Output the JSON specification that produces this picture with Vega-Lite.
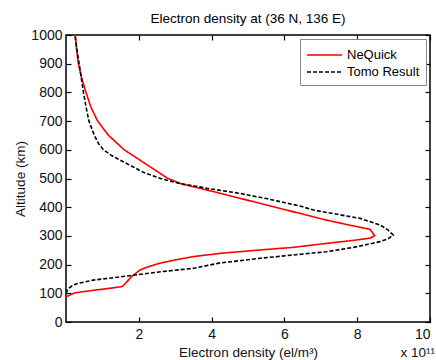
{
  "$schema": "https://vega.github.io/schema/vega-lite/v6.json",
  "width": 364,
  "height": 287,
  "autosize": {"type": "none"},
  "padding": {"left": 66, "top": 35, "right": 6, "bottom": 38},
  "background": "white",
  "title": {"text": "Electron density at (36 N, 136 E)", "font": "Liberation Sans", "fontSize": 13.5, "fontWeight": "normal", "color": "#000000", "offset": 3},
  "config": {
    "view": {"stroke": "#000000", "strokeWidth": 1.5},
    "axis": {"labelFont": "Liberation Sans", "titleFont": "Liberation Sans", "labelFontSize": 14, "titleFontSize": 13.5, "titleFontWeight": "normal", "labelColor": "#111111", "titleColor": "#111111", "tickColor": "#000000", "tickWidth": 1.2, "tickSize": -5, "domain": false, "grid": false}
  },
  "resolve": {"axis": {"x": "independent", "y": "independent"}},
  "datasets": {
    "profiles": [
      {"series": "NeQuick", "alt": 1000, "ne": 0.25},
      {"series": "NeQuick", "alt": 950, "ne": 0.29},
      {"series": "NeQuick", "alt": 900, "ne": 0.34},
      {"series": "NeQuick", "alt": 850, "ne": 0.43},
      {"series": "NeQuick", "alt": 800, "ne": 0.55},
      {"series": "NeQuick", "alt": 750, "ne": 0.68},
      {"series": "NeQuick", "alt": 700, "ne": 0.87},
      {"series": "NeQuick", "alt": 650, "ne": 1.17},
      {"series": "NeQuick", "alt": 600, "ne": 1.6},
      {"series": "NeQuick", "alt": 550, "ne": 2.2},
      {"series": "NeQuick", "alt": 500, "ne": 2.8},
      {"series": "NeQuick", "alt": 480, "ne": 3.2},
      {"series": "NeQuick", "alt": 460, "ne": 3.87},
      {"series": "NeQuick", "alt": 431, "ne": 4.78},
      {"series": "NeQuick", "alt": 400, "ne": 5.75},
      {"series": "NeQuick", "alt": 390, "ne": 6.06},
      {"series": "NeQuick", "alt": 355, "ne": 7.16},
      {"series": "NeQuick", "alt": 340, "ne": 7.7},
      {"series": "NeQuick", "alt": 323, "ne": 8.35},
      {"series": "NeQuick", "alt": 301, "ne": 8.48},
      {"series": "NeQuick", "alt": 292, "ne": 8.35},
      {"series": "NeQuick", "alt": 283, "ne": 7.8},
      {"series": "NeQuick", "alt": 274, "ne": 7.16},
      {"series": "NeQuick", "alt": 260, "ne": 6.24},
      {"series": "NeQuick", "alt": 251, "ne": 5.33},
      {"series": "NeQuick", "alt": 240, "ne": 4.3},
      {"series": "NeQuick", "alt": 228, "ne": 3.5},
      {"series": "NeQuick", "alt": 215, "ne": 2.95},
      {"series": "NeQuick", "alt": 204, "ne": 2.55},
      {"series": "NeQuick", "alt": 190, "ne": 2.2},
      {"series": "NeQuick", "alt": 181, "ne": 2.03},
      {"series": "NeQuick", "alt": 158, "ne": 1.8},
      {"series": "NeQuick", "alt": 130, "ne": 1.6},
      {"series": "NeQuick", "alt": 123, "ne": 1.53},
      {"series": "NeQuick", "alt": 102, "ne": 0.25},
      {"series": "NeQuick", "alt": 88, "ne": 0.0},
      {"series": "Tomo Result", "alt": 1000, "ne": 0.25},
      {"series": "Tomo Result", "alt": 950, "ne": 0.3},
      {"series": "Tomo Result", "alt": 900, "ne": 0.36},
      {"series": "Tomo Result", "alt": 850, "ne": 0.42},
      {"series": "Tomo Result", "alt": 800, "ne": 0.48},
      {"series": "Tomo Result", "alt": 750, "ne": 0.55},
      {"series": "Tomo Result", "alt": 700, "ne": 0.63},
      {"series": "Tomo Result", "alt": 650, "ne": 0.78},
      {"series": "Tomo Result", "alt": 620, "ne": 0.9},
      {"series": "Tomo Result", "alt": 600, "ne": 1.03},
      {"series": "Tomo Result", "alt": 580, "ne": 1.25},
      {"series": "Tomo Result", "alt": 560, "ne": 1.55},
      {"series": "Tomo Result", "alt": 540, "ne": 1.85},
      {"series": "Tomo Result", "alt": 520, "ne": 2.15},
      {"series": "Tomo Result", "alt": 500, "ne": 2.6},
      {"series": "Tomo Result", "alt": 485, "ne": 3.04},
      {"series": "Tomo Result", "alt": 466, "ne": 3.87},
      {"series": "Tomo Result", "alt": 448, "ne": 4.78},
      {"series": "Tomo Result", "alt": 430, "ne": 5.5},
      {"series": "Tomo Result", "alt": 404, "ne": 6.43},
      {"series": "Tomo Result", "alt": 390, "ne": 6.8},
      {"series": "Tomo Result", "alt": 361, "ne": 8.08},
      {"series": "Tomo Result", "alt": 338, "ne": 8.63},
      {"series": "Tomo Result", "alt": 320, "ne": 8.85},
      {"series": "Tomo Result", "alt": 303, "ne": 8.99},
      {"series": "Tomo Result", "alt": 290, "ne": 8.85},
      {"series": "Tomo Result", "alt": 280, "ne": 8.63},
      {"series": "Tomo Result", "alt": 260, "ne": 7.9},
      {"series": "Tomo Result", "alt": 245, "ne": 7.16},
      {"series": "Tomo Result", "alt": 222, "ne": 5.33},
      {"series": "Tomo Result", "alt": 205, "ne": 4.2},
      {"series": "Tomo Result", "alt": 187, "ne": 3.5},
      {"series": "Tomo Result", "alt": 175, "ne": 2.6},
      {"series": "Tomo Result", "alt": 160, "ne": 1.67},
      {"series": "Tomo Result", "alt": 146, "ne": 0.75},
      {"series": "Tomo Result", "alt": 135, "ne": 0.35},
      {"series": "Tomo Result", "alt": 129, "ne": 0.2},
      {"series": "Tomo Result", "alt": 118, "ne": 0.08},
      {"series": "Tomo Result", "alt": 111, "ne": 0.04},
      {"series": "Tomo Result", "alt": 100, "ne": 0.0}
    ],
    "note": [{"label": "x 10¹¹"}]
  },
  "layer": [
    {
      "data": {"name": "profiles"},
      "mark": {"type": "line", "strokeWidth": 1.6, "clip": true},
      "encoding": {
        "x": {"field": "ne", "type": "quantitative", "scale": {"domain": [0, 10], "nice": false, "zero": false}, "axis": {"orient": "bottom", "values": [2, 4, 6, 8, 10], "title": "Electron density (el/m³)", "titlePadding": 4, "labelPadding": 10}},
        "y": {"field": "alt", "type": "quantitative", "scale": {"domain": [0, 1000], "nice": false}, "axis": {"orient": "left", "format": "d", "values": [0, 100, 200, 300, 400, 500, 600, 700, 800, 900, 1000], "title": "Altitude (km)", "titlePadding": 3, "labelPadding": 9}},
        "order": {"field": "alt", "type": "quantitative"},
        "color": {"field": "series", "type": "nominal", "scale": {"domain": ["NeQuick", "Tomo Result"], "range": ["#ff0000", "#000000"]},
          "legend": {"title": null, "orient": "top-right", "offset": 4, "strokeColor": "#888888", "fillColor": "#ffffff", "padding": 6, "labelFont": "Liberation Sans", "labelFontSize": 13, "labelColor": "#000000", "labelOffset": 21, "symbolType": "M-1,0H2.9", "symbolSize": 324, "symbolStrokeWidth": 1.6, "rowPadding": 0}},
        "strokeDash": {"field": "series", "type": "nominal", "scale": {"domain": ["NeQuick", "Tomo Result"], "range": [[1, 0], [4, 2]]}, "legend": null}
      }
    },
    {
      "data": {"name": "profiles"},
      "mark": {"type": "line", "opacity": 0},
      "encoding": {
        "x": {"field": "ne", "type": "quantitative", "scale": {"domain": [0, 10], "nice": false, "zero": false}, "axis": {"orient": "top", "values": [2, 4, 6, 8, 10], "labels": false, "title": null}},
        "y": {"field": "alt", "type": "quantitative", "scale": {"domain": [0, 1000], "nice": false}, "axis": {"orient": "right", "values": [0, 100, 200, 300, 400, 500, 600, 700, 800, 900, 1000], "labels": false, "title": null}},
        "order": {"field": "alt", "type": "quantitative"},
        "detail": {"field": "series"}
      }
    },
    {
      "data": {"name": "note"},
      "mark": {"type": "text", "font": "Liberation Sans", "fontSize": 13.5, "color": "#111111", "align": "right", "baseline": "middle", "dy": 31, "dx": 5},
      "encoding": {
        "x": {"datum": 10, "axis": null},
        "y": {"datum": 0, "axis": null},
        "text": {"field": "label"}
      }
    }
  ]
}
